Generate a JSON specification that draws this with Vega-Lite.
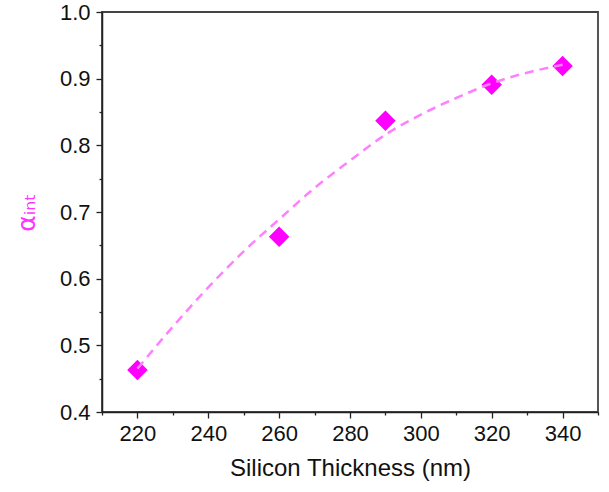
{
  "$schema": "https://vega.github.io/schema/vega-lite/v6.json",
  "width": 496,
  "height": 400,
  "autosize": "none",
  "padding": {"left": 102, "top": 12, "right": 11, "bottom": 80},
  "background": "white",
  "config": {
    "view": {"stroke": "#444444", "strokeWidth": 1.8},
    "font": "Liberation Sans",
    "axis": {"grid": false, "domainColor": "#222222", "domainWidth": 1.5, "tickColor": "#222222", "tickWidth": 1.3, "labelColor": "#111111", "titleColor": "#111111", "labelFont": "Liberation Sans", "titleFont": "Liberation Sans", "titleFontWeight": "normal"}
  },
  "datasets": {
    "pts": [
      {"t": 220, "a": 0.463},
      {"t": 260, "a": 0.663},
      {"t": 290, "a": 0.837},
      {"t": 320, "a": 0.891},
      {"t": 340, "a": 0.919}
    ],
    "fit": [
      {"t": 220, "a": 0.465},
      {"t": 230, "a": 0.528},
      {"t": 240, "a": 0.587},
      {"t": 250, "a": 0.641},
      {"t": 260, "a": 0.689},
      {"t": 270, "a": 0.736},
      {"t": 280, "a": 0.777},
      {"t": 290, "a": 0.816},
      {"t": 300, "a": 0.846},
      {"t": 310, "a": 0.871},
      {"t": 320, "a": 0.893},
      {"t": 330, "a": 0.909},
      {"t": 340, "a": 0.921}
    ]
  },
  "layer": [
    {
      "data": {"name": "pts"},
      "mark": {"type": "point", "shape": "diamond", "filled": true, "size": 420, "color": "#FF00FF", "opacity": 1},
      "encoding": {
        "x": {"field": "t", "type": "quantitative", "scale": {"domain": [210, 350], "nice": false, "zero": false},
          "axis": {"values": [220, 240, 260, 280, 300, 320, 340], "title": "Silicon Thickness (nm)", "labelFontSize": 22, "titleFontSize": 24, "tickSize": 6, "labelPadding": 5, "titlePadding": 12}},
        "y": {"field": "a", "type": "quantitative", "scale": {"domain": [0.4, 1.0], "nice": false, "zero": false},
          "axis": {"values": [0.4, 0.5, 0.6, 0.7, 0.8, 0.9, 1.0], "format": ".1f", "title": "αᵢₙₜ", "titleColor": "#FF33FF", "titleFont": "DejaVu Sans", "labelFontSize": 22, "titleFontSize": 25, "tickSize": 6, "labelPadding": 6, "titlePadding": 20}}
      }
    },
    {
      "data": {"name": "fit"},
      "mark": {"type": "line", "color": "#FF80FF", "strokeWidth": 2.5, "strokeDash": [9, 6], "interpolate": "monotone"},
      "encoding": {
        "x": {"field": "t", "type": "quantitative",
          "axis": {"orient": "bottom", "values": [210, 230, 250, 270, 290, 310, 330, 350], "labels": false, "title": null, "domain": false, "tickSize": 3}},
        "y": {"field": "a", "type": "quantitative",
          "axis": {"orient": "left", "values": [0.45, 0.55, 0.65, 0.75, 0.85, 0.95], "labels": false, "title": null, "domain": false, "tickSize": 3}}
      }
    }
  ],
  "resolve": {"axis": {"x": "independent", "y": "independent"}}
}
